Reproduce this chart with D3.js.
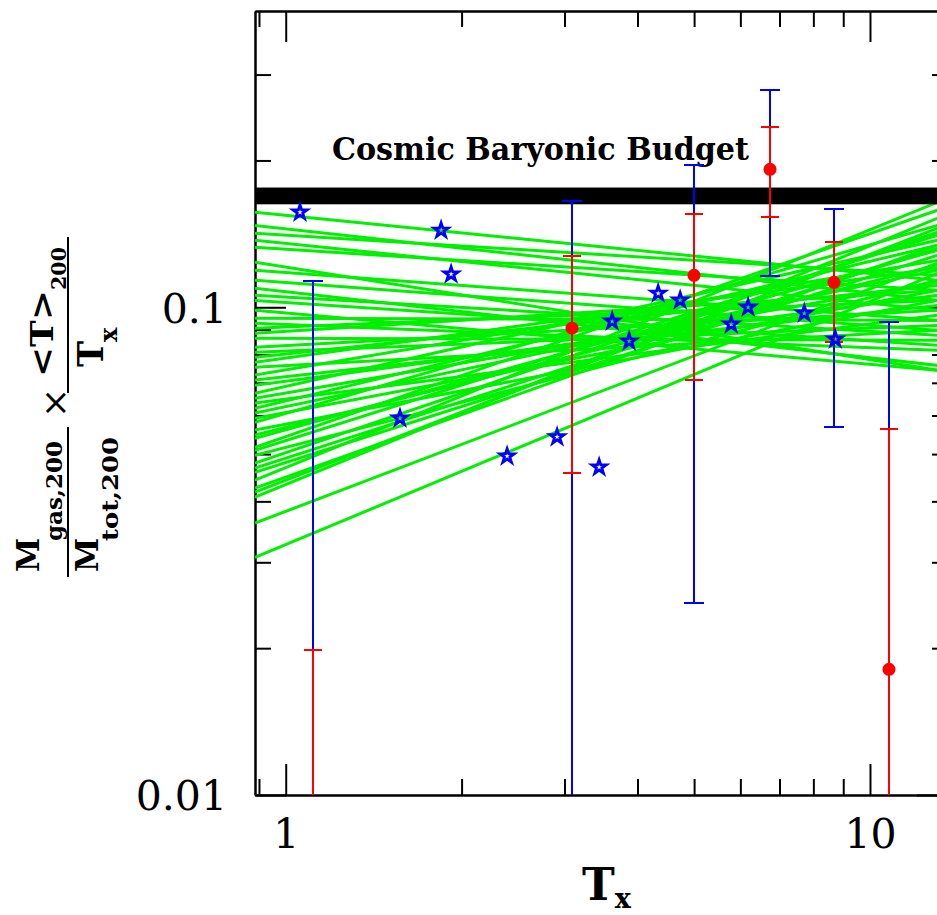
<!DOCTYPE html>
<html lang="en">
<head>
<meta charset="UTF-8">
<title>Gas fraction vs Tx</title>
<script src="https://d3js.org/d3.v7.min.js"></script>
<style>
  body { margin: 0; background: #fff; }
  text { font-family: "DejaVu Serif", serif; }
</style>
</head>
<body>
<div id="chart"></div>
<script>
// model curves (green): value at the two ends of the T range
const modelT = [0.886, 13.04];
const modelLo = [0.1566, 0.1472, 0.1418, 0.1372, 0.1327, 0.1237, 0.1136, 0.1094, 0.1033, 0.0986,
                 0.0950, 0.0906, 0.0864, 0.0828, 0.0790, 0.0753, 0.0726, 0.0692, 0.0666, 0.0636,
                 0.0607, 0.0581, 0.0560, 0.0539, 0.0516, 0.0497, 0.0479, 0.0459, 0.0442, 0.0426,
                 0.0408, 0.0361, 0.0307,
                 0.1191, 0.1058, 0.0927, 0.0885, 0.0809, 0.0771, 0.0709, 0.0651, 0.0621, 0.0592,
                 0.0547, 0.0509, 0.0468, 0.0418];
const modelHi = [0.1136, 0.1033, 0.1163, 0.0986, 0.1083, 0.0743, 0.0897, 0.0760, 0.0836, 0.0743,
                 0.0940, 0.1033, 0.0856, 0.0986, 0.1109, 0.0897, 0.1248, 0.1058, 0.1372, 0.0963,
                 0.1191, 0.1472, 0.1033, 0.1308, 0.1581, 0.1136, 0.1425, 0.1278, 0.1641, 0.1340,
                 0.1522, 0.1231, 0.1174,
                 0.0940, 0.0876, 0.0816, 0.1083, 0.0918, 0.1202, 0.1009, 0.1125, 0.1340, 0.1083,
                 0.1220, 0.1405, 0.1321, 0.1452];

// blue stars
const starT = [1.058, 1.845, 1.919, 1.569, 2.393, 2.914, 3.439, 3.621, 3.871, 4.340, 4.733, 5.788, 6.187, 7.719, 8.721];
const starF = [0.1566, 0.1438, 0.1169, 0.0592, 0.0495, 0.0542, 0.0470, 0.0936, 0.0852, 0.1068, 0.1034, 0.0923, 0.1000, 0.0972, 0.0860];

// clusters with error bars (null = below the plotted range)
const barT   = [1.114, 3.092, 5.002, 6.751, 8.687, 10.79];
const redF   = [null, 0.0906, 0.1163, 0.1918, 0.1125, 0.0181];
const redLo  = [null, 0.0457, 0.0709, 0.1529, 0.0848, null];
const redHi  = [0.0198, 0.1272, 0.1551, 0.2338, 0.1359, 0.0562];
const blueLo = [null, null, 0.0247, 0.1157, 0.0568, null];
const blueHi = [0.1131, 0.1649, 0.1954, 0.2785, 0.1588, 0.0932];

// cosmic baryon fraction band
const baryonBand = [0.1626, 0.176];

const xMajor = [1, 10];
const xMinor = [0.9, 2, 3, 4, 5, 6, 7, 8, 9];
const yMajor = [0.01, 0.1];
const yMinor = [0.02, 0.03, 0.04, 0.05, 0.06, 0.07, 0.08, 0.09, 0.2, 0.3];

const W = 937, H = 915;
const plot = {left: 255, right: 948, top: 11, bottom: 795};

const svg = d3.select("#chart").append("svg")
    .attr("width", W).attr("height", H)
    .style("background", "#fff");

const x = d3.scaleLog().domain([0.886, 13.6]).range([plot.left, plot.right]);
const y = d3.scaleLog().domain([0.01, 0.405]).range([plot.bottom, plot.top]);

svg.append("defs").append("clipPath").attr("id", "clip")
  .append("rect")
    .attr("x", plot.left).attr("y", plot.top)
    .attr("width", plot.right - plot.left).attr("height", plot.bottom - plot.top);

// axes: minor ticks 16px, major 31px, all pointing inward
const styleAxis = g => {
  g.attr("font-family", "DejaVu Serif").attr("font-size", 41);
  g.selectAll("path, line").attr("stroke", "#000").attr("stroke-width", 2);
  g.selectAll("text").attr("fill", "#000");
};

const axes = [
  [d3.axisBottom, `translate(0,${plot.bottom})`, x, true],
  [d3.axisTop, `translate(0,${plot.top})`, x, false],
  [d3.axisLeft, `translate(${plot.left},0)`, y, true],
  [d3.axisRight, `translate(${plot.right},0)`, y, false]
];
axes.forEach(([ax, tr, sc, labelled]) => {
  const isX = sc === x;
  svg.append("g").attr("transform", tr)
    .call(ax(sc).tickValues(isX ? xMinor : yMinor).tickSize(-16).tickSizeOuter(0).tickFormat(""))
    .call(styleAxis);
  const g = svg.append("g").attr("transform", tr)
    .call(ax(sc).tickValues(isX ? xMajor : yMajor).tickSize(-31).tickSizeOuter(0)
      .tickFormat(labelled ? (d => isX ? d3.format("d")(d) : String(d)) : ""))
    .call(styleAxis);
  if (labelled && isX) g.selectAll("text").attr("y", 53).attr("dy", null);
  if (labelled && !isX) g.selectAll("text").attr("x", -28).attr("dy", "0.36em");
});

// green model lines
svg.append("g").attr("clip-path", "url(#clip)")
  .selectAll("line").data(d3.range(modelLo.length)).join("line")
    .attr("x1", x(modelT[0])).attr("x2", x(modelT[1]))
    .attr("y1", i => y(modelLo[i])).attr("y2", i => y(modelHi[i]))
    .attr("stroke", "#00f000").attr("stroke-width", 3);

// baryon budget band + label
svg.append("rect")
    .attr("x", plot.left).attr("width", plot.right - plot.left)
    .attr("y", y(baryonBand[1])).attr("height", y(baryonBand[0]) - y(baryonBand[1]))
    .attr("fill", "#000");

svg.append("text")
    .attr("x", x(1.2)).attr("y", y(0.2))
    .attr("font-size", 31).attr("font-weight", "bold")
    .attr("textLength", 417).attr("lengthAdjust", "spacingAndGlyphs")
    .text("Cosmic Baryonic Budget");

// error bars: blue first, red on top
const bars = svg.append("g").attr("clip-path", "url(#clip)").attr("shape-rendering", "crispEdges");
const drawBar = (lo, hi, color, cap) => {
  barT.forEach((t, i) => {
    const cx = Math.round(x(t));
    const y1 = y(hi[i]);
    const y2 = lo[i] == null ? plot.bottom + 5 : y(lo[i]);
    bars.append("line").attr("x1", cx).attr("x2", cx).attr("y1", y1).attr("y2", y2)
      .attr("stroke", color).attr("stroke-width", 2);
    [hi[i], lo[i]].filter(v => v != null).forEach(v => {
      bars.append("line").attr("x1", cx - cap).attr("x2", cx + cap)
        .attr("y1", y(v)).attr("y2", y(v))
        .attr("stroke", color).attr("stroke-width", 2);
    });
  });
};
drawBar(blueLo, blueHi, "#0000ff", 10);
drawBar(redLo, redHi, "#ff0000", 9);

// stars
svg.append("g").selectAll("path").data(starT).join("path")
    .attr("transform", (d, i) => `translate(${x(d)},${y(starF[i])})`)
    .attr("d", d3.symbol(d3.symbolStar, 62))
    .attr("fill", "none").attr("stroke", "#0000ff").attr("stroke-width", 2.8);

// red points
svg.append("g").selectAll("circle").data(barT.filter((d, i) => redF[i] != null)).join("circle")
    .attr("cx", d => Math.round(x(d)))
    .attr("cy", d => y(redF[barT.indexOf(d)]))
    .attr("r", 6.5).attr("fill", "#ff0000");

// x label
const xl = svg.append("text").attr("font-weight", "bold").attr("x", 582).attr("y", 900);
xl.append("tspan").attr("font-size", 44).text("T");
xl.append("tspan").attr("font-size", 27).attr("dy", 8).text("x");

// y label (rotated fractions)
const yl = svg.append("g").attr("transform", "rotate(-90)").attr("font-weight", "bold");
const put = (u, v, s, size, len) => {
  const t = yl.append("text").attr("x", u).attr("y", v).attr("font-size", size).text(s);
  if (len) t.attr("textLength", len).attr("lengthAdjust", "spacingAndGlyphs");
  return t;
};
const bar = (u1, u2, v) => yl.append("line").attr("x1", u1).attr("x2", u2).attr("y1", v).attr("y2", v)
  .attr("stroke", "#000").attr("stroke-width", 2);

put(-572, 39, "M", 31);
put(-541, 62, "gas,200", 23, 100);
bar(-577, -427, 68);
put(-572, 98, "M", 31);
put(-541, 118, "tot,200", 23, 104);
put(-418, 67, "\u00d7", 36).attr("font-weight", "normal");
put(-377, 53, "<T>", 32, 87);
put(-290, 66, "200", 21, 43);
bar(-393, -237, 68);
put(-367, 103, "T", 35);
put(-342, 117, "x", 24);
</script>
</body>
</html>
